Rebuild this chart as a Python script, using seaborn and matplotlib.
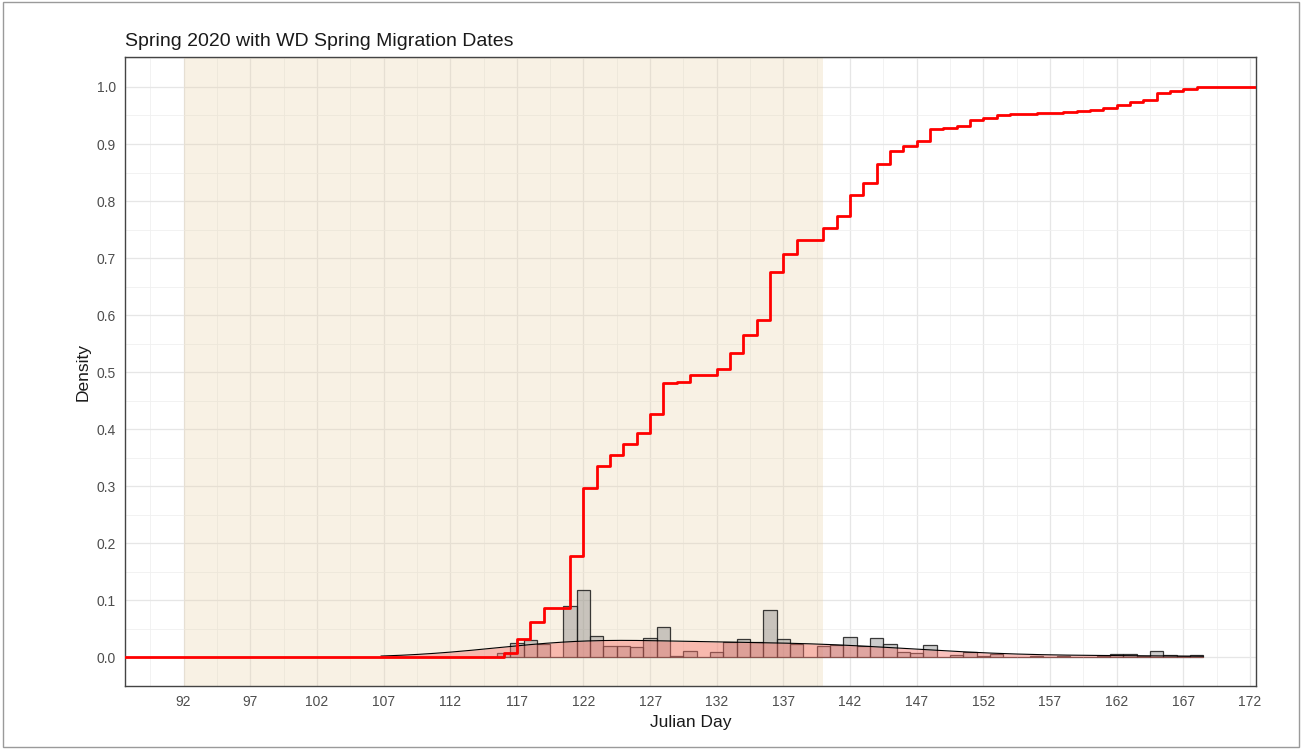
import matplotlib
matplotlib.use("Agg")
import matplotlib.pyplot as plt
import numpy as np
import seaborn as sns
from matplotlib.patches import Rectangle
from matplotlib.ticker import AutoMinorLocator, FormatStrFormatter

# ---------------------------------------------------------------------------
# Data
# ---------------------------------------------------------------------------

# Julian day of each detection day and the share of all detections on it
julian_day = list(range(116, 169))
day_share = [
    0.0080, 0.0247, 0.0298, 0.0245, 0.0000, 0.0910, 0.1190, 0.0380,   # 116-123
    0.0205, 0.0193, 0.0187, 0.0333, 0.0540, 0.0024, 0.0122, 0.0000,   # 124-131
    0.0104, 0.0276, 0.0321, 0.0263, 0.0840, 0.0320, 0.0240, 0.0000,   # 132-139
    0.0200, 0.0225, 0.0365, 0.0200, 0.0340, 0.0230, 0.0090, 0.0080,   # 140-147
    0.0210, 0.0015, 0.0042, 0.0103, 0.0030, 0.0060, 0.0010, 0.0010,   # 148-155
    0.0020, 0.0000, 0.0018, 0.0017, 0.0015, 0.0027, 0.0058, 0.0058,   # 156-163
    0.0027, 0.0120, 0.0045, 0.0025, 0.0040,                           # 164-168
]

# WD spring migration window (Julian days)
wd_start, wd_end = 92, 140

x_ticks = list(range(92, 173, 5))
y_ticks = [0.0, 0.1, 0.2, 0.3, 0.4, 0.5, 0.6, 0.7, 0.8, 0.9, 1.0]

title = "Spring 2020 with WD Spring Migration Dates"
x_label = "Julian Day"
y_label = "Density"

# ---------------------------------------------------------------------------
# Style
# ---------------------------------------------------------------------------

sns.set_style("whitegrid", {
    "axes.edgecolor": "#444444",
    "grid.color": "#EBEBEB",
    "axes.linewidth": 1.0,
})
plt.rcParams["font.family"] = ["Liberation Sans", "DejaVu Sans"]

X_LIM = (87.6, 172.45)
Y_LIM = (-0.05, 1.0525)

fig = plt.figure(figsize=(13.03, 7.49), dpi=100)
ax = fig.add_axes([0.0959, 0.0841, 0.8680, 0.8398])
ax.set_axisbelow(True)

# migration window
ax.axvspan(wd_start, wd_end, color="#E8D2A8", alpha=0.3, lw=0, zorder=0.8)

# histogram of detections
n_before = len(ax.patches)
sns.histplot(x=julian_day, weights=day_share, discrete=True, stat="density",
             ax=ax, zorder=2)
for bar in ax.patches[n_before:]:
    bar.set_alpha(None)
    bar.set_facecolor((0.5, 0.5, 0.5, 0.4))
    bar.set_edgecolor((0.1, 0.1, 0.1, 0.85))
    bar.set_linewidth(0.9)

# smoothed density
kde_clip = (106.8, 168.5)
sns.kdeplot(x=julian_day, weights=day_share, fill=True, color="#F8766D",
            alpha=0.45, linewidth=0, clip=kde_clip, ax=ax, zorder=3)
sns.kdeplot(x=julian_day, weights=day_share, color="black", linewidth=0.8,
            clip=kde_clip, ax=ax, zorder=3.5)

# cumulative distribution
sns.ecdfplot(x=julian_day, weights=day_share, color="red", linewidth=2.0,
             ax=ax, zorder=4)
ecdf_line = ax.lines[-1]
xs, ys = ecdf_line.get_data()
xs = np.where(np.isfinite(xs), xs, X_LIM[0] - 5)
ecdf_line.set_data(np.r_[xs, X_LIM[1] + 5], np.r_[ys, ys[-1]])

# ---------------------------------------------------------------------------
# Axes
# ---------------------------------------------------------------------------

ax.set_xlim(*X_LIM)
ax.set_ylim(*Y_LIM)
ax.set_xticks(x_ticks)
ax.set_yticks(y_ticks)
ax.yaxis.set_major_formatter(FormatStrFormatter("%.1f"))
ax.xaxis.set_minor_locator(AutoMinorLocator(2))
ax.yaxis.set_minor_locator(AutoMinorLocator(2))
ax.grid(which="major", color="#E6E6E6", linewidth=0.9)
ax.grid(which="minor", color="#F0F0F0", linewidth=0.6)
ax.tick_params(which="major", length=3.5, width=0.8, color="#444444",
               labelcolor="#4D4D4D", labelsize=10, pad=3)
ax.tick_params(which="minor", length=0)
for side in ax.spines.values():
    side.set_color("#444444")
    side.set_linewidth(1.0)

ax.set_xlabel(x_label, fontsize=12.5, color="#1A1A1A", labelpad=4)
ax.set_ylabel(y_label, fontsize=12.5, color="#1A1A1A", labelpad=4)
ax.set_title(title, loc="left", fontsize=14, color="#1A1A1A", pad=8)

# thin frame round the whole picture
fig.patches.append(Rectangle((0.002, 0.003), 0.995, 0.994, transform=fig.transFigure,
                             fill=False, edgecolor="#9A9A9A", linewidth=1.0))

fig.savefig("out.png", dpi=100)
plt.close(fig)
